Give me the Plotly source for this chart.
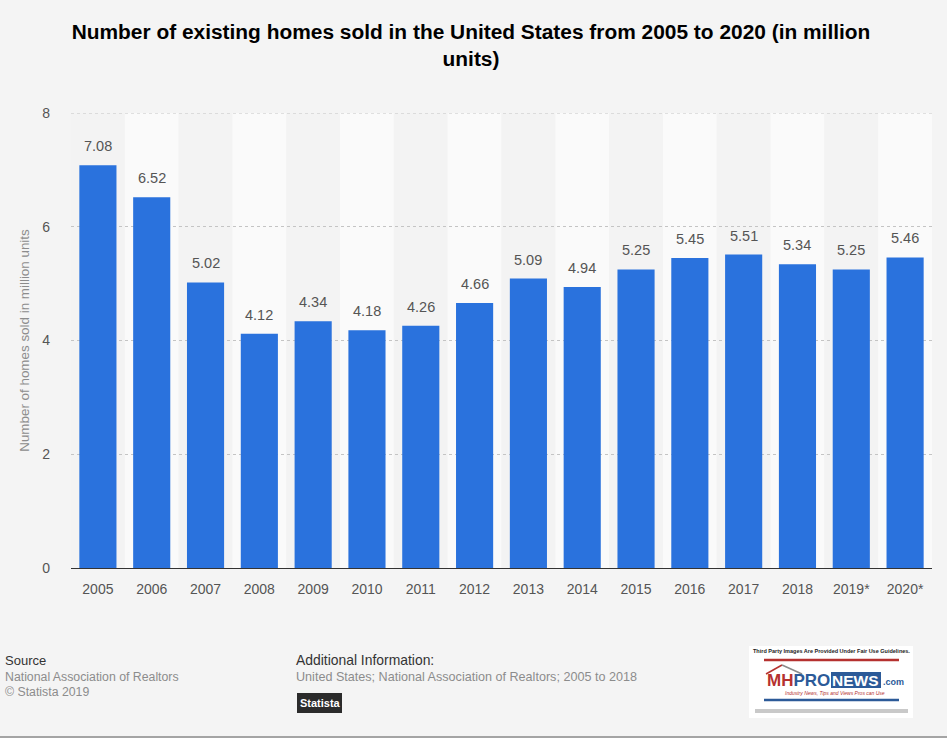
import plotly.graph_objects as go

years = ["2005","2006","2007","2008","2009","2010","2011","2012","2013","2014","2015","2016","2017","2018","2019*","2020*"]
values = [7.08,6.52,5.02,4.12,4.34,4.18,4.26,4.66,5.09,4.94,5.25,5.45,5.51,5.34,5.25,5.46]
y_ticks = [0,2,4,6,8]

W, H = 947, 738
FONT = "Liberation Sans"
px = lambda v: v / W
py = lambda v: 1 - v / H

fig = go.Figure(go.Bar(
    x=years, y=values, width=0.69, marker=dict(color="#2a72dd", line_width=0), hoverinfo="skip"))

for i, v in enumerate(values):
    fig.add_annotation(x=i, y=v, xref="x", yref="y", text=f"{v:.2f}", showarrow=False,
                       yanchor="bottom", yshift=9, font=dict(family=FONT, size=14.5, color="#555555"))

shapes = []
for i in range(len(years)):
    shapes.append(dict(type="rect", xref="x", yref="paper", x0=i-0.5, x1=i+0.5,
                       y0=py(568), y1=py(113), line_width=0, layer="below",
                       fillcolor="#fafafa" if i % 2 else "#f3f3f3"))
shapes.append(dict(type="line", xref="x", yref="y", x0=-0.5, x1=15.5, y0=y_ticks[-1], y1=y_ticks[-1],
                   line=dict(color="#c4c4c4", width=1, dash="dot"), layer="below"))
def rect(x0, y0, x1, y1, color):
    shapes.append(dict(type="rect", xref="paper", yref="paper", x0=px(x0), x1=px(x1),
                       y0=py(y0), y1=py(y1), fillcolor=color, line_width=0, layer="above"))
def line(x0, y0, x1, y1, color, w):
    shapes.append(dict(type="line", xref="paper", yref="paper", x0=px(x0), x1=px(x1),
                       y0=py(y0), y1=py(y1), line=dict(color=color, width=w), layer="above"))

line(0, 737, 947, 737, "#8a8a8a", 1.5)
rect(297, 693, 342, 713, "#2b2b2b")
rect(749, 646, 913, 718, "#ffffff")
rect(755, 709, 908, 713, "#c9c9c9")
line(764, 660, 899, 660, "#b5312f", 2.5)
line(764, 700, 899, 700, "#2c5a98", 2.5)
line(766, 674, 782, 665, "#b5312f", 1.5)
line(782, 665, 802, 674, "#8a8a8a", 1.5)
rect(831, 672, 881, 688, "#2c5a98")
fig.update_layout(shapes=shapes)

def note(x, y, text, size, color, anchor="left", bold=False, italic=False):
    t = f"<b>{text}</b>" if bold else text
    t = f"<i>{t}</i>" if italic else t
    fig.add_annotation(xref="paper", yref="paper", x=px(x), y=py(y), text=t, showarrow=False,
                       xanchor=anchor, yanchor="middle", align=anchor, borderpad=0,
                       font=dict(family=FONT, size=size, color=color))

note(4, 660, "Source", 13, "#333333")
note(4, 677, "National Association of Realtors", 12.3, "#8c8c8c")
note(4, 692, "© Statista 2019", 12.3, "#8c8c8c")
note(295, 660, "Additional Information:", 13.9, "#333333")
note(295, 677, "United States; National Association of Realtors; 2005 to 2018", 12.6, "#8c8c8c")
note(299, 703, "Statista", 11, "#ffffff", bold=True)
note(831, 651, "Third Party Images Are Provided Under Fair Use Guidelines.", 5.5, "#222222", "center", bold=True)
note(766, 680, "MH<span style='color:#2c5a98'>PRO</span>", 17, "#b5312f", bold=True)
note(831, 680, "NEWS", 15.5, "#ffffff", bold=True)
note(882, 682, ".com", 9, "#2c5a98", bold=True)
note(835, 693, "Industry News, Tips and Views Pros can Use", 5, "#b5312f", "center", italic=True)

fig.update_layout(
    width=W, height=H, margin=dict(l=0, r=0, t=0, b=0, autoexpand=False), autosize=False,
    paper_bgcolor="#f4f4f4", plot_bgcolor="rgba(0,0,0,0)", showlegend=False,
    title=dict(text="<b>Number of existing homes sold in the United States from 2005 to 2020 (in million<br>units)</b>",
               x=471/W, xanchor="center", y=py(39), yanchor="top",
               font=dict(family=FONT, size=20.9, color="#000000")),
    xaxis=dict(domain=[px(71), px(932)], type="category", range=[-0.5, 15.5], showgrid=False,
               showline=True, linecolor="#333333", linewidth=1, ticks="",
               tickfont=dict(family=FONT, size=14, color="#555555"), ticklabelstandoff=8),
    yaxis=dict(domain=[py(568), py(113)], range=[0, 8], tickvals=y_ticks,
               showgrid=True, gridcolor="#c4c4c4", griddash="dot", gridwidth=1, zeroline=False,
               ticks="", tickfont=dict(family=FONT, size=14, color="#555555"), ticklabelstandoff=20,
               title=dict(text="Number of homes sold in million units", standoff=9,
                          font=dict(family=FONT, size=13.4, color="#8c8c8c"))),
)
fig.write_html("out.html", post_script="document.body.style.margin='0';", config=dict(displayModeBar=False))
